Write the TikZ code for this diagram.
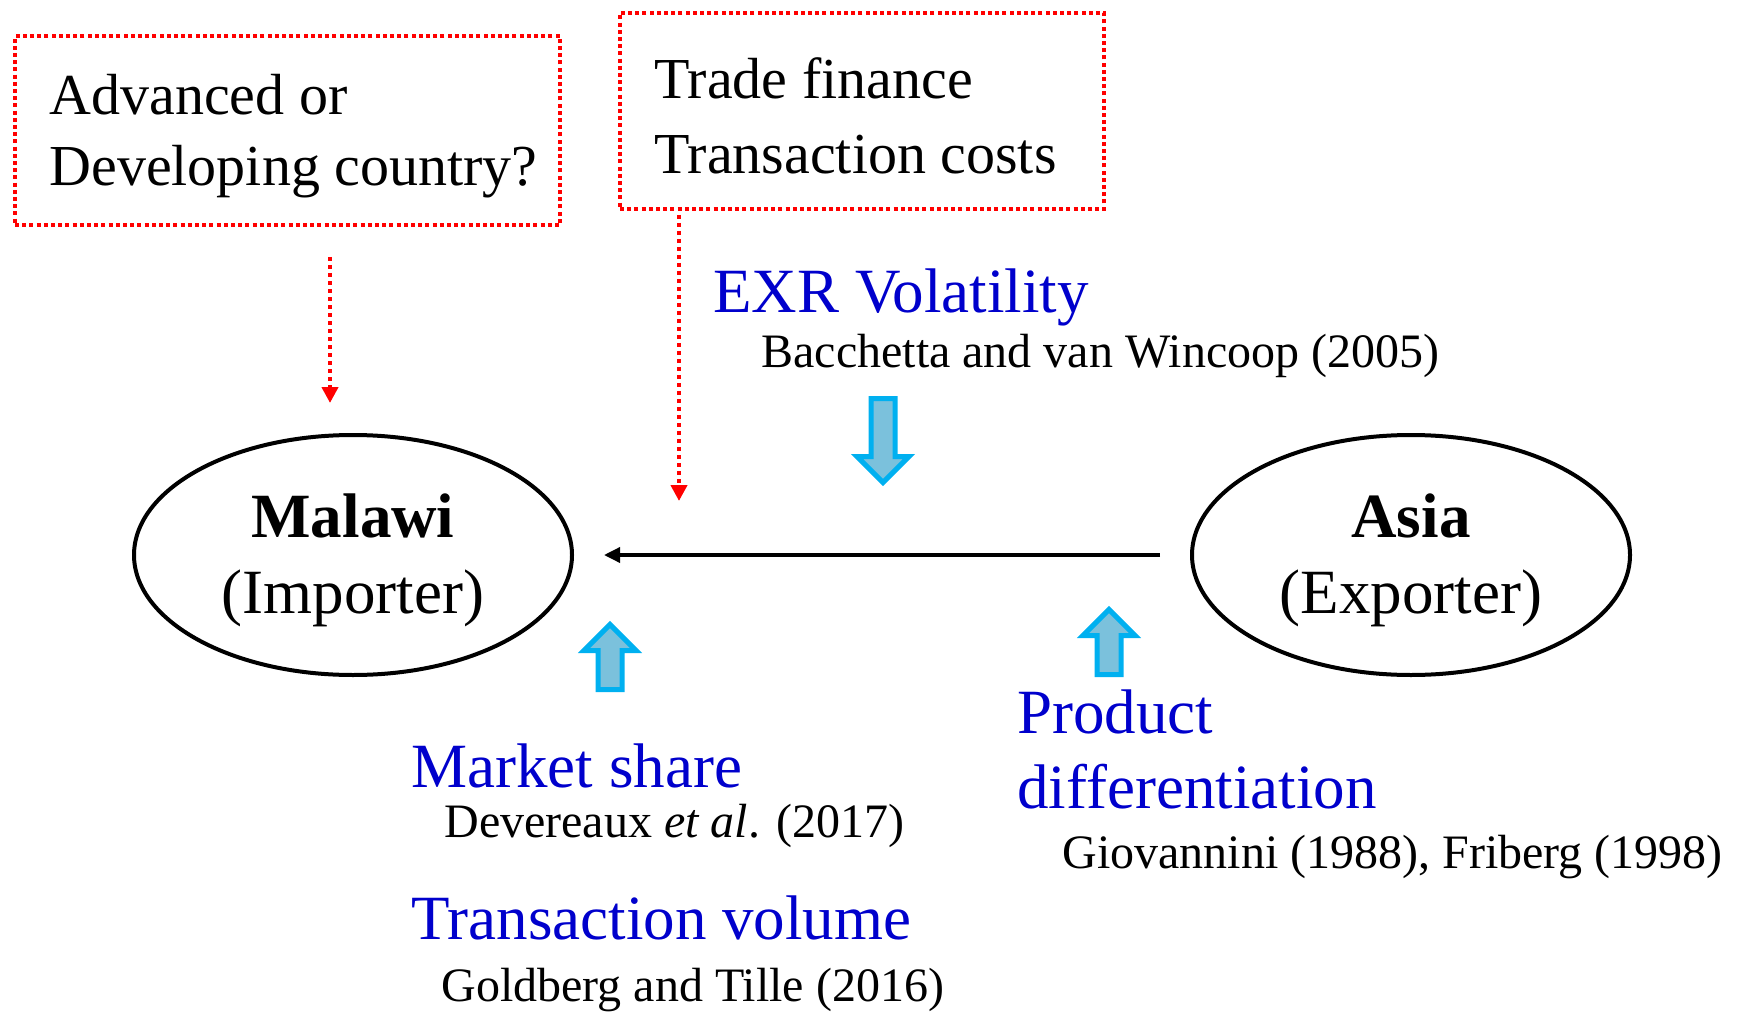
\documentclass[tikz,border=0pt]{standalone}
\usepackage{fontspec}
\setmainfont{Liberation Serif}
\usetikzlibrary{arrows.meta,shapes.geometric}

\definecolor{citeblue}{RGB}{0,0,204}
\definecolor{arrowedge}{RGB}{0,176,240}
\definecolor{arrowfill}{RGB}{123,193,220}

\tikzset{
	qbox/.style={draw=red, line width=2pt, dash pattern=on 2pt off 1.6pt, anchor=north west, inner sep=0pt},
	qtext/.style={anchor=west, align=left, inner sep=0pt},
	country/.style={ellipse, draw, line width=2pt, minimum width=219pt, minimum height=120pt, inner sep=0pt},
	ctext/.style={inner sep=0pt, align=center, yshift=-2.5pt, font=\fontsize{31.5}{38}\selectfont},
	factor/.style={inner sep=0pt, text=citeblue, align=left, font=\fontsize{31.5}{37.5}\selectfont},
	cite/.style={anchor=base west, inner sep=0pt, font=\fontsize{24}{29}\selectfont},
	redarrow/.style={red, line width=2pt, dash pattern=on 2pt off 2pt, -{Triangle[width=8pt,length=8pt]}},
	blockarrow/.style={draw=arrowedge, fill=arrowfill, line width=2.5pt},
}

\begin{document}
\begin{tikzpicture}[x=0.5pt, y=-0.5pt]
	\useasboundingbox (0,0) rectangle (1739,1016);

	\node[qbox, minimum width=272.5pt, minimum height=94.5pt] (advbox) at (13,34) {};
	\node[qtext, font=\fontsize{29}{35.5}\selectfont, yshift=-2.75pt] (advtxt) at ([xshift=18pt]advbox.west) {Advanced or\\Developing country?};
	\node[qbox, minimum width=242pt, minimum height=98pt] (finbox) at (618,11) {};
	\node[qtext, font=\fontsize{29}{37.5}\selectfont, yshift=-2.5pt] (fintxt) at ([xshift=18pt]finbox.west) {Trade finance\\Transaction costs};

	\node[country] (malawi) at (353,555) {};
	\node[ctext] (malawitxt) at (malawi.center) {\textbf{Malawi}\\(Importer)};
	\node[country] (asia) at (1411,555) {};
	\node[ctext] (asiatxt) at (asia.center) {\textbf{Asia}\\(Exporter)};
	\draw[line width=1.75pt, -{Triangle[width=7.5pt,length=8pt]}, shorten <=15pt, shorten >=15pt] (asia) -- (malawi);

	\coordinate (advtip) at (330,403);
	\coordinate (fintip) at (679,501);
	\draw[redarrow, shorten <=15pt] (advbox.south -| advtip) -- (advtip);
	\draw[redarrow, shorten <=2pt] (finbox.south -| fintip) -- (fintip);

	\node[factor, anchor=base west] (exr) at (713,312) {EXR Volatility};
	\node[cite] (bvw) at (761,367) {Bacchetta and van Wincoop (2005)};
	\draw[blockarrow] (871,398.5) -- ++(24,0) -- ++(0,58) -- ++(14,0) -- ++(-26,26) -- ++(-26,-26) -- ++(14,0) -- cycle;

	\draw[blockarrow] (598,689.5) -- ++(0,-39) -- ++(-14,0) -- ++(26,-26) -- ++(26,26) -- ++(-14,0) -- ++(0,39) -- cycle;
	\node[factor, anchor=base west] (mkt) at (411,787) {Market share};
	\node[cite] (dev) at (444,837) {Devereaux \textit{et al}. (2017)};
	\node[factor, anchor=base west] (vol) at (411,939) {Transaction volume};
	\node[cite] (gt) at (441,1001) {Goldberg and Tille (2016)};

	\draw[blockarrow] (1097,674.5) -- ++(0,-39) -- ++(-14,0) -- ++(26,-26) -- ++(26,26) -- ++(-14,0) -- ++(0,39) -- cycle;
	\node[factor, anchor=north west] (prod) at (1017,689) {Product\\differentiation};
	\node[cite] (gf) at (1062,868) {Giovannini (1988), Friberg (1998)};
\end{tikzpicture}
\end{document}
